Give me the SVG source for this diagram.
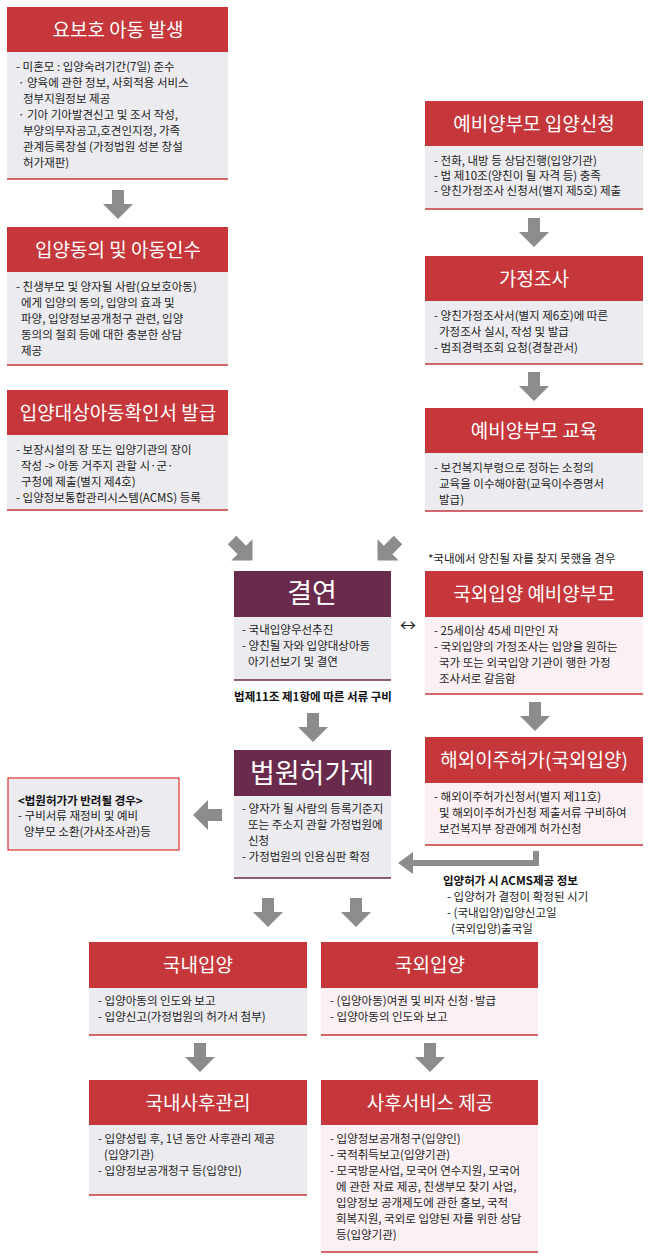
<svg xmlns="http://www.w3.org/2000/svg" width="650" height="1258" viewBox="0 0 650 1258">
<style>
text{font-family:"Noto Sans CJK KR","Noto Sans",sans-serif;}
.hr{fill:#c6373c}.hp{fill:#6a2a4b}
.bg{fill:#ececf0}.bp{fill:#fbf1f4}
.ln{stroke:#c6373c;stroke-width:1.5}
.ht{fill:#fff;font-size:19px;text-anchor:middle}
.hb{fill:#fff;font-size:27px;text-anchor:middle}
.t{fill:#222;font-size:11.5px}
.b{fill:#111;font-size:11.5px;font-weight:bold}
.ar{fill:#8c8c8c}
</style>
<rect width="650" height="1258" fill="#fff"/>
<g id="n1"><rect class="hr" x="7" y="7" width="221" height="45"/><rect class="bg" x="7" y="52" width="221" height="127"/><line class="ln" x1="7" y1="179" x2="228" y2="179"/>
<text class="ht" x="118" y="37">요보호 아동 발생</text>
<text class="t" x="16" y="71">- 미혼모 : 입양숙려기간(7일) 준수</text>
<text class="t" x="18" y="87">· 양육에 관한 정보, 사회적용 서비스</text>
<text class="t" x="23" y="103">정부지원정보 제공</text>
<text class="t" x="18" y="119">· 기아 기아발견신고 및 조서 작성,</text>
<text class="t" x="23" y="135">부양의무자공고,호견인지정, 가족</text>
<text class="t" x="23" y="151">관계등록창설 (가정법원 성본 창설</text>
<text class="t" x="23" y="167">허가재판)</text></g>
<g id="n2"><rect class="hr" x="7" y="227" width="221" height="45"/><rect class="bg" x="7" y="272" width="221" height="93"/><line class="ln" x1="7" y1="365" x2="228" y2="365"/>
<text class="ht" x="118" y="257">입양동의 및 아동인수</text>
<text class="t" x="16" y="291">- 친생부모 및 양자될 사람(요보호아동)</text>
<text class="t" x="21" y="307">에게 입양의 동의, 입양의 효과 및</text>
<text class="t" x="21" y="323">파양, 입양정보공개청구 관련, 입양</text>
<text class="t" x="21" y="339">동의의 철회 등에 대한 충분한 상담</text>
<text class="t" x="21" y="355">제공</text></g>
<g id="n3"><rect class="hr" x="7" y="390" width="221" height="45"/><rect class="bg" x="7" y="435" width="221" height="75"/><line class="ln" x1="7" y1="510" x2="228" y2="510"/>
<text class="ht" x="118" y="420">입양대상아동확인서 발급</text>
<text class="t" x="16" y="454">- 보장시설의 장 또는 입양기관의 장이</text>
<text class="t" x="21" y="470">작성 -&gt; 아동 거주지 관할 시·군·</text>
<text class="t" x="21" y="486">구청에 제출(별지 제4호)</text>
<text class="t" x="16" y="502">- 입양정보통합관리시스템(ACMS) 등록</text></g>
<g id="n4"><rect class="hr" x="425" y="101" width="218" height="45"/><rect class="bg" x="425" y="146" width="218" height="63"/><line class="ln" x1="425" y1="209" x2="643" y2="209"/>
<text class="ht" x="534" y="131">예비양부모 입양신청</text>
<text class="t" x="434" y="165">- 전화, 내방 등 상담진행(입양기관)</text>
<text class="t" x="434" y="180">- 법 제10조(양친이 될 자격 등) 충족</text>
<text class="t" x="434" y="195">- 양친가정조사 신청서(별지 제5호) 제출</text></g>
<g id="n5"><rect class="hr" x="425" y="256" width="218" height="45"/><rect class="bg" x="425" y="301" width="218" height="63"/><line class="ln" x1="425" y1="364" x2="643" y2="364"/>
<text class="ht" x="534" y="286">가정조사</text>
<text class="t" x="434" y="320">- 양친가정조사서(별지 제6호)에 따른</text>
<text class="t" x="439" y="336">가정조사 실시, 작성 및 발급</text>
<text class="t" x="434" y="352">- 범죄경력조회 요청(경찰관서)</text></g>
<g id="n6"><rect class="hr" x="425" y="408" width="218" height="45"/><rect class="bg" x="425" y="453" width="218" height="58"/><line class="ln" x1="425" y1="511" x2="643" y2="511"/>
<text class="ht" x="534" y="438">예비양부모 교육</text>
<text class="t" x="434" y="472">- 보건복지부령으로 정하는 소정의</text>
<text class="t" x="439" y="488">교육을 이수해야함(교육이수증명서</text>
<text class="t" x="439" y="504">발급)</text></g>
<text class="t" x="428" y="563" font-size="11">*국내에서 양친될 자를 찾지 못했을 경우</text>
<g id="n7"><rect class="hp" x="234" y="571" width="157" height="46"/><rect class="bg" x="234" y="617" width="157" height="63"/><line class="ln" x1="234" y1="680" x2="391" y2="680" style="stroke:#6a2a4b"/>
<text class="hb" x="312" y="603">결연</text>
<text class="t" x="242" y="634">- 국내입양우선추진</text>
<text class="t" x="242" y="650">- 양친될 자와 입양대상아동</text>
<text class="t" x="248" y="666">아기선보기 및 결연</text></g>
<g id="n8"><rect class="hr" x="425" y="571" width="218" height="46"/><rect class="bp" x="425" y="617" width="218" height="77"/><line class="ln" x1="425" y1="694" x2="643" y2="694"/>
<text class="ht" x="534" y="601">국외입양 예비양부모</text>
<text class="t" x="434" y="635">- 25세이상 45세 미만인 자</text>
<text class="t" x="434" y="651">- 국외입양의 가정조사는 입양을 원하는</text>
<text class="t" x="439" y="667">국가 또는 외국입양 기관이 행한 가정</text>
<text class="t" x="439" y="683">조사서로 갈음함</text></g>
<text class="b" x="313" y="701" text-anchor="middle">법제11조 제1항에 따른 서류 구비</text>
<g id="n9"><rect class="hp" x="234" y="750" width="157" height="46"/><rect class="bg" x="234" y="796" width="157" height="82"/><line class="ln" x1="234" y1="878" x2="391" y2="878" style="stroke:#6a2a4b"/>
<text class="hb" x="312" y="783">법원허가제</text>
<text class="t" x="242" y="813">- 양자가 될 사람의 등록기준지</text>
<text class="t" x="248" y="829">또는 주소지 관할 가정법원에</text>
<text class="t" x="248" y="845">신청</text>
<text class="t" x="242" y="861">- 가정법원의 인용심판 확정</text></g>
<g id="n10"><rect class="hr" x="425" y="737" width="218" height="46"/><rect class="bp" x="425" y="783" width="218" height="62"/><line class="ln" x1="425" y1="845" x2="643" y2="845"/>
<text class="ht" x="534" y="767">해외이주허가(국외입양)</text>
<text class="t" x="434" y="801">- 해외이주허가신청서(별지 제11호)</text>
<text class="t" x="439" y="817">및 해외이주허가신청 제출서류 구비하여</text>
<text class="t" x="439" y="833">보건복지부 장관에게 허가신청</text></g>
<g id="n11"><rect x="8" y="778" width="171" height="72" fill="#ececf0" stroke="#d33" stroke-width="1.2"/>
<text class="b" x="18" y="805">&lt;법원허가가 반려될 경우&gt;</text>
<text class="t" x="18" y="820">- 구비서류 재정비 및 예비</text>
<text class="t" x="24" y="836">양부모 소환(가사조사관)등</text></g>
<g id="acms"><text class="b" x="443" y="885">입양허가 시 ACMS제공 정보</text>
<text class="t" x="447" y="901">- 입양허가 결정이 확정된 시기</text>
<text class="t" x="447" y="917">- (국내입양)입양신고일</text>
<text class="t" x="451" y="933">(국외입양)출국일</text></g>
<g id="n12"><rect class="hr" x="89" y="942" width="218" height="46"/><rect class="bg" x="89" y="988" width="218" height="47"/><line class="ln" x1="89" y1="1035" x2="307" y2="1035"/>
<text class="ht" x="198" y="972">국내입양</text>
<text class="t" x="98" y="1005">- 입양아동의 인도와 보고</text>
<text class="t" x="98" y="1021">- 입양신고(가정법원의 허가서 첨부)</text></g>
<g id="n13"><rect class="hr" x="321" y="942" width="217" height="46"/><rect class="bp" x="321" y="988" width="217" height="47"/><line class="ln" x1="321" y1="1035" x2="538" y2="1035"/>
<text class="ht" x="430" y="972">국외입양</text>
<text class="t" x="330" y="1005">- (입양아동)여권 및 비자 신청·발급</text>
<text class="t" x="330" y="1021">- 입양아동의 인도와 보고</text></g>
<g id="n14"><rect class="hr" x="89" y="1080" width="218" height="45"/><rect class="bg" x="89" y="1125" width="218" height="70"/><line class="ln" x1="89" y1="1195" x2="307" y2="1195"/>
<text class="ht" x="198" y="1110">국내사후관리</text>
<text class="t" x="98" y="1143">- 입양성립 후, 1년 동안 사후관리 제공</text>
<text class="t" x="104" y="1159">(입양기관)</text>
<text class="t" x="98" y="1175">- 입양정보공개청구 등(입양인)</text></g>
<g id="n15"><rect class="hr" x="321" y="1080" width="217" height="45"/><rect class="bp" x="321" y="1125" width="217" height="127"/><line class="ln" x1="321" y1="1252" x2="538" y2="1252"/>
<text class="ht" x="430" y="1110">사후서비스 제공</text>
<text class="t" x="330" y="1143">- 입양정보공개청구(입양인)</text>
<text class="t" x="330" y="1159">- 국적취득보고(입양기관)</text>
<text class="t" x="330" y="1175">- 모국방문사업, 모국어 연수지원, 모국어</text>
<text class="t" x="336" y="1191">에 관한 자료 제공, 친생부모 찾기 사업,</text>
<text class="t" x="336" y="1207">입양정보 공개제도에 관한 홍보, 국적</text>
<text class="t" x="336" y="1223">회복지원, 국외로 입양된 자를 위한 상담</text>
<text class="t" x="336" y="1239">등(입양기관)</text></g>
<g id="connectors">
<defs><path id="da" d="M-6,0 h12 v14 h9 l-15,15 l-15,-15 h9 z"/></defs>
<use href="#da" class="ar" x="118" y="190"/>
<use href="#da" class="ar" x="534" y="218"/>
<use href="#da" class="ar" x="534" y="372"/>
<use href="#da" class="ar" x="313" y="713"/>
<use href="#da" class="ar" x="535" y="702"/>
<use href="#da" class="ar" x="268" y="898"/>
<use href="#da" class="ar" x="356" y="898"/>
<use href="#da" class="ar" x="200" y="1043"/>
<use href="#da" class="ar" x="430" y="1043"/>
<use href="#da" class="ar" transform="translate(232,540) rotate(-45)"/>
<use href="#da" class="ar" transform="translate(398,540) rotate(45)"/>
<use href="#da" class="ar" transform="translate(222,815) rotate(90)"/>
<path class="ar" d="M539,851 h-6 v9 H413 v-8 l-15,11 l15,11 v-8 h126 z"/>
<text x="408" y="631" font-size="16" text-anchor="middle" fill="#222" font-family="DejaVu Sans">↔</text>
</g>
</svg>
